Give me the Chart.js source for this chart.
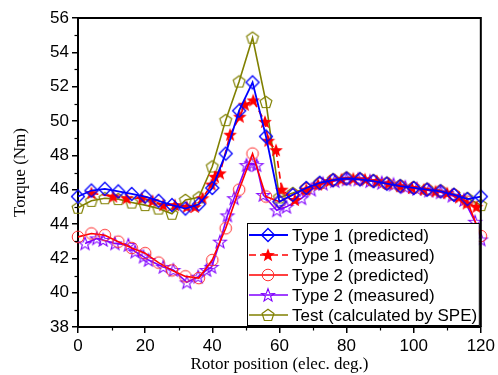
<!DOCTYPE html>
<html><head><meta charset="utf-8">
<script src="https://cdn.jsdelivr.net/npm/chart.js@4"></script>
<style>html,body{margin:0;padding:0;background:#fff}</style>
</head><body>
<canvas id="c" width="498" height="375"></canvas>
<script>
// ---- data ----
const seriesLabels = ['Type 1 (predicted)', 'Type 1 (measured)', 'Type 2 (predicted)', 'Type 2 (measured)', 'Test (calculated by SPE)'];
const xTickLabels = [0, 20, 40, 60, 80, 100, 120];
const yTickLabels = [38, 40, 42, 44, 46, 48, 50, 52, 54, 56];
const xMinorTicks = [10, 30, 50, 70, 90, 110];
const yMinorTicks = [39, 41, 43, 45, 47, 49, 51, 53, 55];

const predictedPositions = [0,4,8,12,16,20,24,28,32,36,40,44,48,52,56,60,64,68,72,76,80,84,88,92,96,100,104,108,112,116,120];
const type1Predicted = [45.6,45.95,46.05,45.9,45.75,45.6,45.35,45.1,44.9,45.15,46.1,48.1,50.6,52.25,49.1,45.3,45.7,46.1,46.4,46.55,46.65,46.6,46.5,46.35,46.2,46.1,46.0,45.9,45.7,45.45,45.6];
const type2Predicted = [43.25,43.45,43.35,42.97,42.6,42.3,41.75,41.3,40.95,40.85,41.9,43.75,46.0,48.1,45.6,45.3,45.7,46.05,46.35,46.55,46.65,46.6,46.5,46.35,46.2,46.1,46.0,45.9,45.7,45.3,43.3];
const testSPE = [44.95,45.35,45.5,45.45,45.25,45.1,44.9,44.6,45.4,45.55,47.35,50.05,52.3,54.85,51.1,45.55,45.8,46.1,46.4,46.6,46.7,46.65,46.55,46.4,46.25,46.15,46.05,45.95,45.75,45.5,45.1];

const type1MeasuredPositions = [4,10.5,14.5,19,22.2,25.4,28.9,32.4,34.8,37.1,39.8,40.8,42.3,45.3,48.2,49.7,52.2,55.7,56.7,59,60.7,64.6,68,71.5,75,78.5,82,85.5,89,92.5,96,99.5,103,106.5,110,113.5,115.8,118.7];
const type1Measured = [45.8,45.6,45.5,45.5,45.35,45.1,45.1,45.0,45.0,45.5,46.3,46.75,46.95,49.2,50.25,50.95,51.2,49.95,48.85,48.3,46.0,45.4,46.0,46.3,46.5,46.6,46.65,46.6,46.5,46.35,46.2,46.1,46.0,45.9,45.8,45.55,45.2,45.0];

const type2MeasuredPositions = [2.1,5.6,7.5,11,15,17,19.5,21,25.4,28.4,32.4,35.8,38.3,39.8,42.3,44.5,46.5,50.2,51.7,53.2,55.2,59.2,62.1,66.6,69.5,73,76.5,80,83.5,87,90.5,94,97.5,101,104.5,108,111.5,115,118.3,120];
const type2Measured = [42.87,43.16,43.07,42.87,42.78,42.39,42.1,41.9,41.5,41.32,40.6,40.93,41.32,41.5,42.97,44.5,45.5,47.43,47.53,47.43,45.69,44.8,45.0,45.5,46.0,46.35,46.5,46.6,46.6,46.5,46.4,46.3,46.15,46.05,45.95,45.85,45.65,45.4,44.13,43.1];

// ---- marker images ----
function markerCanvas(draw){
  const c = document.createElement('canvas'); c.width = 18; c.height = 18;
  const g = c.getContext('2d'); draw(g, 9, 9); return c;
}
function starPath(g, cx, cy, R, r){
  g.beginPath();
  for (let i = 0; i < 10; i++){
    const a = -Math.PI/2 + i*Math.PI/5, rad = i % 2 ? r : R;
    const px = cx + rad*Math.cos(a), py = cy + rad*Math.sin(a);
    i ? g.lineTo(px, py) : g.moveTo(px, py);
  }
  g.closePath();
}
const mDiamond = markerCanvas((g,cx,cy)=>{g.strokeStyle='#0000ff';g.lineWidth=1.3;g.beginPath();g.moveTo(cx,cy-6.5);g.lineTo(cx+6.5,cy);g.lineTo(cx,cy+6.5);g.lineTo(cx-6.5,cy);g.closePath();g.stroke();});
const mStarFilled = markerCanvas((g,cx,cy)=>{g.fillStyle='#ff0000';starPath(g,cx,cy+0.5,7.2,3.0);g.fill();});
const mCircle = markerCanvas((g,cx,cy)=>{g.strokeStyle='#ff3030';g.lineWidth=1;g.beginPath();g.arc(cx,cy,5.8,0,Math.PI*2);g.stroke();});
const mStarHollow = markerCanvas((g,cx,cy)=>{g.strokeStyle='#8000ff';g.lineWidth=1.1;starPath(g,cx,cy+0.5,6.8,2.8);g.stroke();});
const mPentagon = markerCanvas((g,cx,cy)=>{g.strokeStyle='#808000';g.lineWidth=1.2;g.beginPath();for(let i=0;i<5;i++){const a=-Math.PI/2+i*2*Math.PI/5;const px=cx+6.2*Math.cos(a),py=cy+0.5+6.2*Math.sin(a);i?g.lineTo(px,py):g.moveTo(px,py);}g.closePath();g.stroke();});

function pts(xs, ys){ return xs.map((x,i)=>({x:x, y:ys[i]})); }

const styles = [
  {color:'#0000ff', width:1.8, dash:[], marker:mDiamond},
  {color:'#ff0000', width:1.6, dash:[7,4], marker:mStarFilled},
  {color:'#ff0000', width:1.6, dash:[], marker:mCircle},
  {color:'#8000ff', width:1.6, dash:[], marker:mStarHollow},
  {color:'#808000', width:1.6, dash:[], marker:mPentagon}
];
const seriesData = [
  pts(predictedPositions, type1Predicted),
  pts(type1MeasuredPositions, type1Measured),
  pts(predictedPositions, type2Predicted),
  pts(type2MeasuredPositions, type2Measured),
  pts(predictedPositions, testSPE)
];

const datasets = seriesData.map((d,i)=>({
  label: seriesLabels[i], data: d, showLine: true, tension: 0,
  borderColor: styles[i].color, borderWidth: styles[i].width, borderDash: styles[i].dash,
  pointStyle: styles[i].marker, pointRadius: 6, backgroundColor: 'transparent', clip: false
}));

const decor = {
  id: 'decor',
  afterDatasetsDraw(chart){
    const {ctx, chartArea: a, scales: {x, y}} = chart;
    ctx.save();
    ctx.strokeStyle = '#000'; ctx.lineWidth = 2; ctx.setLineDash([]);
    ctx.beginPath(); ctx.moveTo(a.left, a.top); ctx.lineTo(a.right, a.top); ctx.lineTo(a.right, a.bottom); ctx.stroke();
    ctx.lineWidth = 1.2;
    xMinorTicks.forEach(v=>{const p=Math.round(x.getPixelForValue(v))+0.5;ctx.beginPath();ctx.moveTo(p,a.bottom);ctx.lineTo(p,a.bottom+3.5);ctx.stroke();});
    yMinorTicks.forEach(v=>{const p=Math.round(y.getPixelForValue(v))+0.5;ctx.beginPath();ctx.moveTo(a.left,p);ctx.lineTo(a.left-3.5,p);ctx.stroke();});
    // legend box
    const bx = a.left + 169, by = a.top + 205, bw = a.right - 2 - bx, bh = a.bottom - 2 - by;
    ctx.fillStyle = '#fff'; ctx.fillRect(bx, by, bw, bh);
    ctx.lineWidth = 1; ctx.strokeStyle = '#000'; ctx.strokeRect(bx+0.5, by+0.5, bw, bh);
    ctx.font = '17px "Liberation Sans", Arial, sans-serif'; ctx.textBaseline = 'middle'; ctx.textAlign = 'left';
    seriesLabels.forEach((t,i)=>{
      const ry = by + 12 + i*20;
      ctx.strokeStyle = styles[i].color; ctx.lineWidth = styles[i].width; ctx.setLineDash(styles[i].dash);
      ctx.beginPath(); ctx.moveTo(bx+2, ry); ctx.lineTo(bx+41, ry); ctx.stroke();
      ctx.setLineDash([]);
      const m = styles[i].marker; ctx.drawImage(m, bx+21-m.width/2, ry-m.height/2);
      ctx.fillStyle = '#000'; ctx.fillText(t, bx+45, ry+1);
    });
    ctx.restore();
  }
};

Chart.defaults.font.family = '"Liberation Sans", Arial, sans-serif';
Chart.defaults.color = '#000';

new Chart(document.getElementById('c'), {
  type: 'scatter',
  data: { datasets },
  options: {
    responsive: false, animation: false, devicePixelRatio: 1,
    layout: { padding: { left: 0, right: 17, top: 18, bottom: 0 } },
    plugins: { legend: { display: false }, tooltip: { enabled: false } },
    scales: {
      x: {
        type: 'linear', min: 0, max: 120,
        afterBuildTicks(s){ s.ticks = xTickLabels.map(v=>({value:v})); },
        ticks: { font: { size: 17 }, color: '#000', padding: 3, maxRotation: 0, autoSkip: false },
        grid: { display: true, drawOnChartArea: false, drawTicks: true, tickLength: 6, color: '#000', lineWidth: 1.5 },
        border: { display: true, color: '#000', width: 2 },
        title: { display: true, text: 'Rotor position (elec. deg.)', font: { family: '"Liberation Serif", "Times New Roman", serif', size: 17 }, color: '#000', padding: { top: 0, bottom: 0 } },
        afterFit(s){ s.height = 48; }
      },
      y: {
        type: 'linear', min: 38, max: 56,
        afterBuildTicks(s){ s.ticks = yTickLabels.map(v=>({value:v})); },
        ticks: { font: { size: 17 }, color: '#000', padding: 3, autoSkip: false },
        grid: { display: true, drawOnChartArea: false, drawTicks: true, tickLength: 6, color: '#000', lineWidth: 1.5 },
        border: { display: true, color: '#000', width: 2 },
        title: { display: true, text: 'Torque (Nm)', font: { family: '"Liberation Serif", "Times New Roman", serif', size: 17 }, color: '#000', padding: { top: 10, bottom: 0 } },
        afterFit(s){ s.width = 78; }
      }
    }
  },
  plugins: [decor]
});
</script>
</body></html>
